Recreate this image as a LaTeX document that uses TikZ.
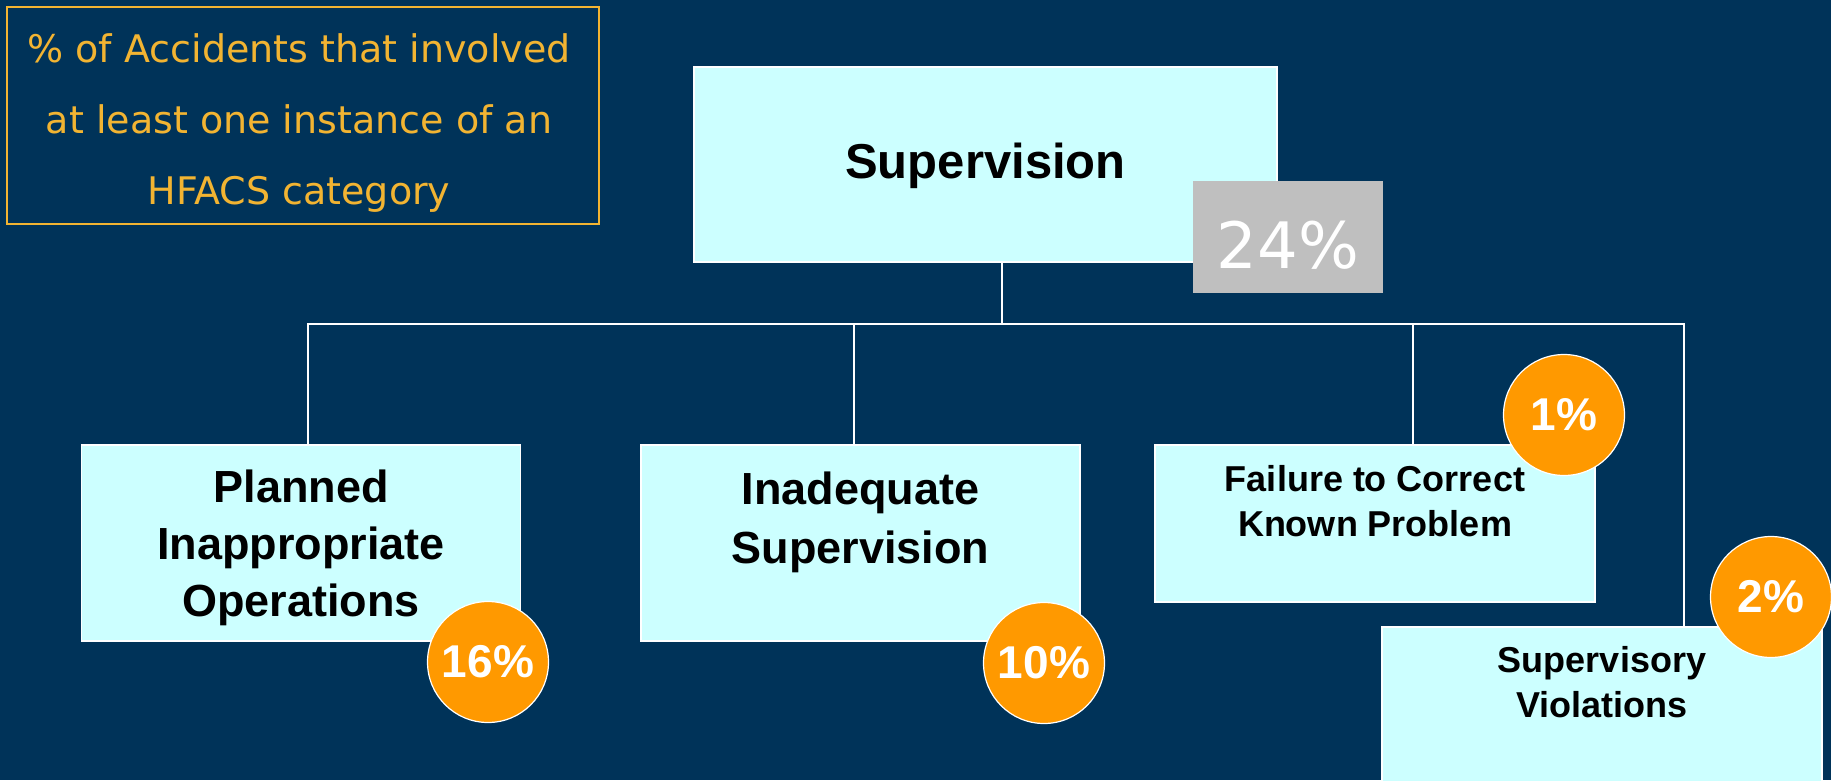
\documentclass[tikz,border=0pt]{standalone}
\usepackage{fontspec}
\setmainfont{Liberation Sans}
\newfontfamily\legendfont{DejaVu Sans}
\definecolor{navybg}{RGB}{0,51,89}
\definecolor{boxcyan}{RGB}{204,255,255}
\definecolor{pctorange}{RGB}{255,153,0}
\definecolor{legendgold}{RGB}{242,180,50}
\definecolor{pctgrey}{RGB}{191,191,191}
\begin{document}
\begin{tikzpicture}[x=1pt,y=-1pt,
  catbox/.style={rectangle, draw=white, line width=1.5pt, fill=boxcyan, inner sep=0pt},
  cattext/.style={align=center, inner sep=0pt, text=black},
  pct/.style={circle, fill=pctorange, draw=white, line width=1.2pt, minimum size=121pt,
    inner sep=0pt, text=white, font=\bfseries\fontsize{46}{50}\selectfont},
  link/.style={draw=white, line width=1.5pt}
]
% background and page frame
\fill[navybg] (0,0) rectangle (1831,780);
\useasboundingbox (0,0) rectangle (1831,780);
\clip (0,0) rectangle (1831,780);

% legend
\node[rectangle, draw=legendgold, line width=2pt, minimum width=592pt, minimum height=217pt,
  inner sep=0pt] (legend) at (303,115.5) {};
\node[align=center, inner sep=0pt, text=legendgold,
  font=\legendfont\fontsize{38}{71}\selectfont] (legendtext) at (299,123)
  {\% of Accidents that involved\\at least one instance of an\\HFACS category};

% top category
\node[catbox, minimum width=583pt, minimum height=195pt] (sup) at (985.5,164.5) {};
\node[cattext, font=\bfseries\fontsize{49}{58}\selectfont] (suptext) at (985.5,166) {Supervision};
\node[rectangle, fill=pctgrey, minimum width=190pt, minimum height=112pt, inner sep=0pt]
  (supbadge) at (1288,237) {};
\node[inner sep=0pt, text=white, font=\legendfont\fontsize{64}{70}\selectfont]
  (suppct) at (1288,245) {24\%};

% sub-categories
\node[catbox, minimum width=439pt, minimum height=196pt] (pio) at (301,543) {};
\node[cattext, font=\bfseries\fontsize{45}{57}\selectfont] (piotext) at (301,548)
  {Planned\\Inappropriate\\Operations};

\node[catbox, minimum width=439pt, minimum height=196pt] (ias) at (860.5,543) {};
\node[cattext, font=\bfseries\fontsize{45}{59}\selectfont] (iastext) at (860.5,522)
  {Inadequate\\Supervision};

\node[catbox, minimum width=440pt, minimum height=157pt] (fcp) at (1375,523.5) {};
\node[cattext, font=\bfseries\fontsize{36}{45}\selectfont] (fcptext) at (1375,501.5)
  {Failure to Correct\\Known Problem};

\node[catbox, minimum width=440pt, minimum height=190pt] (sv) at (1602,722) {};
\node[cattext, font=\bfseries\fontsize{36}{45}\selectfont] (svtext) at (1602,682.5)
  {Supervisory\\Violations};

% connectors
\coordinate (trunk) at ([xshift=16.5pt]sup.south);
\coordinate (d1) at ([xshift=7pt]pio.north);
\coordinate (d2) at ([xshift=-6.5pt]ias.north);
\coordinate (d3) at ([xshift=38pt]fcp.north);
\coordinate (d4) at ([xshift=82pt]sv.north);
\coordinate (hub) at (1002,324);
\draw[link] (trunk) -- (hub);
\draw[link] (d1) |- (hub) -| (d4);
\draw[link] (d2) -- (d2 |- hub);
\draw[link] (d3) -- (d3 |- hub);

% percentage badges
\node[pct] (p16) at (488,662) {16\%};
\node[pct] (p10) at (1044,663) {10\%};
\node[pct] (p1) at (1564,415) {1\%};
\node[pct] (p2) at (1771,597) {2\%};
\end{tikzpicture}
\end{document}
